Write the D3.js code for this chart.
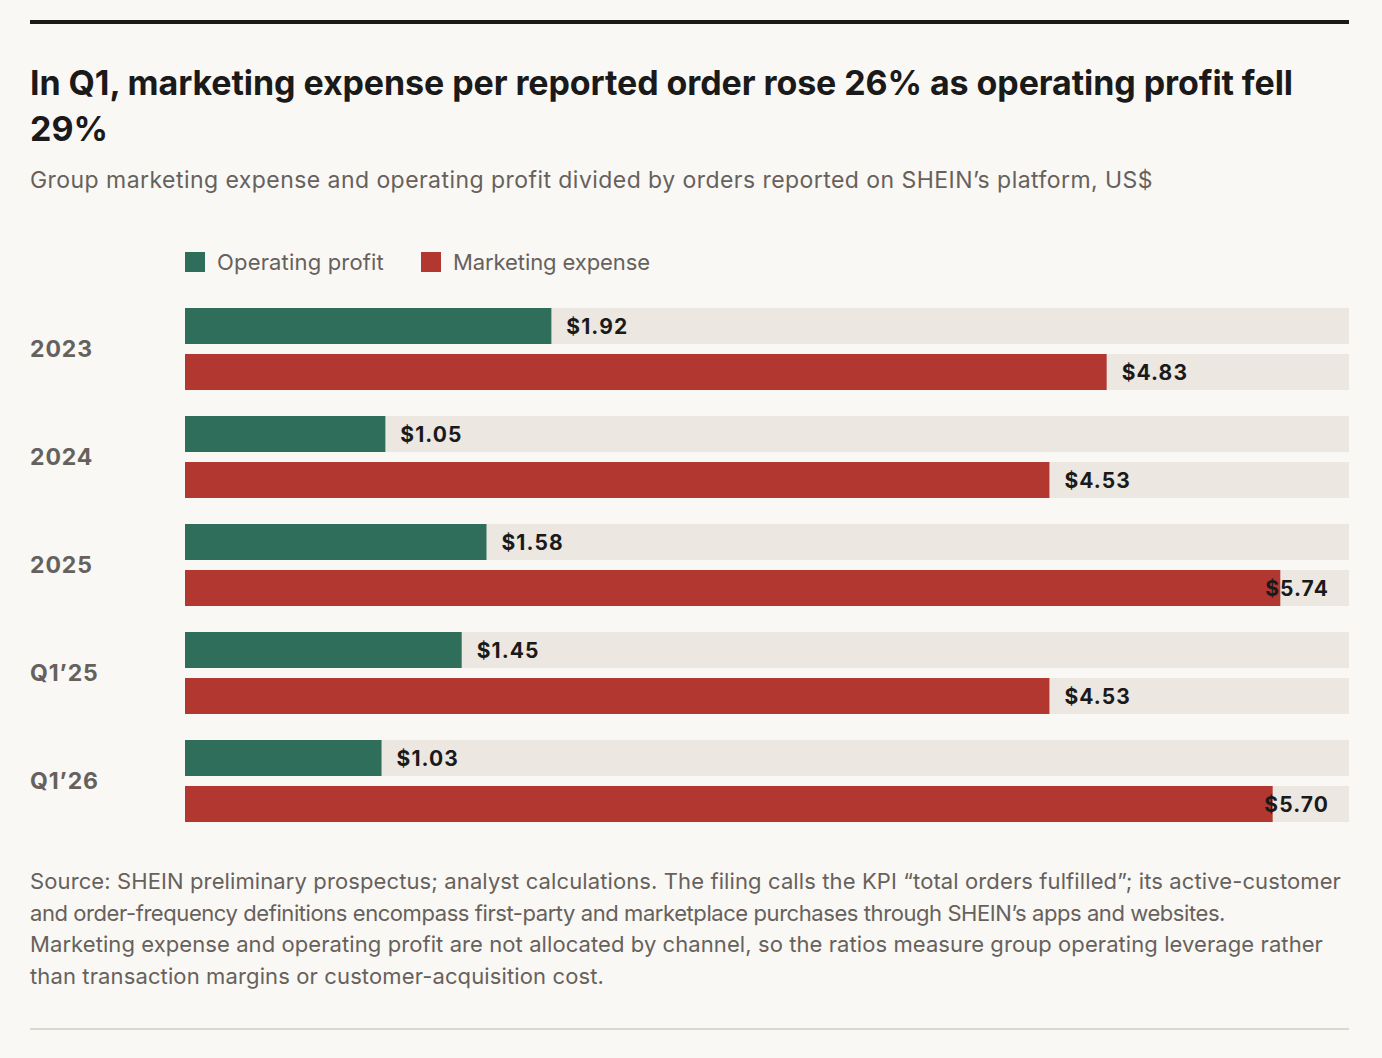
<!DOCTYPE html>
<html>
<head>
<meta charset="utf-8">
<script src="https://cdn.jsdelivr.net/npm/d3@7.9.0/dist/d3.min.js"></script>
<style>
  html, body { margin: 0; padding: 0; background: #faf8f4; }
  svg { display: block; }
</style>
</head>
<body>
<svg id="chart" width="1382" height="1058"></svg>
<script>
// data
const periods = ['2023', '2024', '2025', 'Q1\u201925', 'Q1\u201926'];
const operatingProfit = [1.92, 1.05, 1.58, 1.45, 1.03];
const marketingExpense = [4.83, 4.53, 5.74, 4.53, 5.70];
const seriesNames = ['Operating profit', 'Marketing expense'];
const seriesColors = ['#2f6e5a', '#b23731'];

const titleLines = [
  'In Q1, marketing expense per reported order rose 26% as operating profit fell',
  '29%'
];
const subtitle = 'Group marketing expense and operating profit divided by orders reported on SHEIN\u2019s platform, US$';
const noteLines = [
  'Source: SHEIN preliminary prospectus; analyst calculations. The filing calls the KPI \u201ctotal orders fulfilled\u201d; its active-customer',
  'and order-frequency definitions encompass first-party and marketplace purchases through SHEIN\u2019s apps and websites.',
  'Marketing expense and operating profit are not allocated by channel, so the ratios measure group operating leverage rather',
  'than transaction margins or customer-acquisition cost.'
];

const left = 30, right = 1349;
const plotLeft = 185;
const svg = d3.select('#chart');
const font = 'Inter, "DejaVu Sans", sans-serif';
const grey = '#66615c';

// stretch a text element to the width it has in the reference
function fitWidth(sel, target) {
  sel.each(function () {
    const n = this.getNumberOfChars();
    const w = this.getComputedTextLength();
    d3.select(this).attr('letter-spacing', (target - w) / n);
  });
}

// top rule
svg.append('rect').attr('x', left).attr('y', 20).attr('width', right - left).attr('height', 4).attr('fill', '#1a1a1a');

// title
const title = svg.append('g')
  .attr('font-family', font).attr('font-weight', 700).attr('font-size', 34)
  .attr('fill', '#1a1a1a');
title.selectAll('text').data(titleLines).join('text')
  .attr('x', left).attr('y', (d, i) => 95 + i * 46)
  .text(d => d);
const titleRef = [1263, 78];
title.selectAll('text').each(function (d, i) { fitWidth(d3.select(this), titleRef[i]); });

const sub = svg.append('text')
  .attr('x', left).attr('y', 188)
  .attr('font-family', font).attr('font-size', 23)
  .attr('fill', grey)
  .text(subtitle);
fitWidth(sub, 1123);

// legend
const legend = svg.append('g').attr('transform', 'translate(185,252)');
const legX = [0, 236];
const legRef = [167, 197];
seriesNames.forEach((name, i) => {
  const g = legend.append('g').attr('transform', `translate(${legX[i]},0)`);
  g.append('rect').attr('width', 20).attr('height', 20).attr('fill', seriesColors[i]);
  const t = g.append('text').attr('x', 32).attr('y', 18)
    .attr('font-family', font).attr('font-size', 22).attr('fill', grey)
    .text(name);
  fitWidth(t, legRef[i]);
});

// scales
const x = d3.scaleLinear().domain([0, 6.1]).range([plotLeft, right]);
const y = d3.scaleBand().domain(periods).range([308, 848]).paddingInner(0).paddingOuter(0);
const barH = 36, barGap = 10;

const rows = periods.map((p, i) => ({ period: p, values: [operatingProfit[i], marketingExpense[i]] }));

const groups = svg.append('g').selectAll('g').data(rows).join('g')
  .attr('transform', d => `translate(0,${y(d.period)})`);

groups.append('text')
  .attr('x', left).attr('y', barH + barGap / 2)
  .attr('dy', '0.36em')
  .attr('font-family', font).attr('font-weight', 700).attr('font-size', 23)
  .attr('letter-spacing', 0.9)
  .attr('fill', grey)
  .text(d => d.period);

const bars = groups.selectAll('g.bar').data(d => d.values.map((v, j) => ({ v, j }))).join('g')
  .attr('class', 'bar')
  .attr('transform', d => `translate(0,${d.j * (barH + barGap)})`);

bars.append('rect')
  .attr('x', x(0)).attr('width', x.range()[1] - x(0)).attr('height', barH)
  .attr('fill', '#ece7e1');

bars.append('rect')
  .attr('x', x(0)).attr('width', d => x(d.v) - x(0)).attr('height', barH)
  .attr('fill', d => seriesColors[d.j]);

bars.append('text')
  .attr('y', barH / 2).attr('dy', '0.38em')
  .attr('font-family', font).attr('font-weight', 700).attr('font-size', 21)
  .attr('letter-spacing', 1.1)
  .attr('fill', '#1a1a1a')
  .text(d => '$' + d.v.toFixed(2))
  .each(function (d) {
    const w = this.getComputedTextLength();
    const px = Math.min(x(d.v) + 15, right - 20 - w);
    d3.select(this).attr('x', px);
  });

// footnote
const noteRef = [1311, 1195, 1293, 574];
svg.append('g')
  .attr('font-family', font).attr('font-size', 22).attr('fill', grey)
  .selectAll('text').data(noteLines).join('text')
  .attr('x', left).attr('y', (d, i) => 889 + i * 31.5)
  .text(d => d)
  .each(function (d, i) { fitWidth(d3.select(this), noteRef[i]); });

// bottom rule
svg.append('rect').attr('x', left).attr('y', 1028).attr('width', right - left).attr('height', 2).attr('fill', '#dcd8d0');
</script>
</body>
</html>
